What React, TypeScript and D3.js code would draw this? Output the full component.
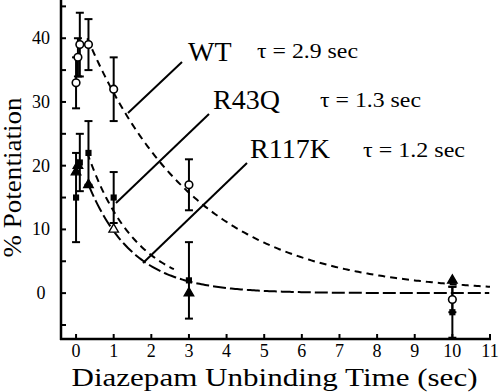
import React from "react";
import * as d3 from "d3";

// measured data (time in sec, % potentiation, +/- error)
const wtTime = [0, 0.05, 0.1, 0.33, 1, 3, 10];
const wtValue = [33, 37, 39, 39, 32, 17, -1];
const wtErr = [4, 3, 5, 4, 5, 4, 2];

const r43qTime = [0, 0.1, 0.33, 1, 3, 10];
const r43qValue = [15, 20.5, 22, 15, 2, -3];
const r43qErr = [7, 4.5, 5, 4, 6, 4];

const r117kTime = [0, 0.05, 0.33, 1, 3, 10];
const r117kValue = [19, 20, 17, 10, 0, 2];
const r117kFilled = [true, true, true, false, true, true];

// exponential fits: label, tau, peak amplitude, start, end
const fitNames = ["WT", "R43Q", "R117K"];
const fitTau = [2.9, 1.3, 1.2];
const fitAmp = [40, 22, 17];
const fitStart = [0.3, 0.3, 0.33];
const fitEnd = [11, 2.6, 11];

const xTicks = [0, 1, 2, 3, 4, 5, 6, 7, 8, 9, 10, 11];
const yMajor = [0, 10, 20, 30, 40];
const yMinor = [-5, 5, 15, 25, 35, 45];

const serif = { fontFamily: "Liberation Serif" };

export default function App() {
  const x = d3.scaleLinear().domain([-0.4, 11]).range([61, 490]);
  const y = d3.scaleLinear().domain([-7.2, 46]).range([339, 0]);

  const line = d3
    .line<[number, number]>()
    .x((d) => x(d[0]))
    .y((d) => y(d[1]));

  const fitPath = (i: number) => {
    const pts: [number, number][] = [];
    for (let t = fitStart[i]; t <= fitEnd[i] + 1e-9; t += 0.05) {
      pts.push([t, fitAmp[i] * Math.exp(-(t - fitStart[i]) / fitTau[i])]);
    }
    return line(pts) || "";
  };
  const dashes = ["7,5", "7,5", "13,4"];

  const errBar = (t: number, v: number, e: number, key: string) => {
    if (!e) return null;
    const cx = x(t);
    return (
      <g key={key} stroke="#000" strokeWidth={2}>
        <line x1={cx} x2={cx} y1={y(v + e)} y2={y(v - e)} />
        <line x1={cx - 4} x2={cx + 4} y1={y(v + e)} y2={y(v + e)} />
        <line x1={cx - 4} x2={cx + 4} y1={y(v - e)} y2={y(v - e)} />
      </g>
    );
  };

  const tri = d3.symbol(d3.symbolTriangle, 40)() || "";
  const sq = d3.symbol(d3.symbolSquare, 38)() || "";

  return (
    <svg
      width={500}
      height={392}
      style={{ position: "absolute", left: 0, top: 0, background: "#fff" }}
    >
      {/* fit curves */}
      {fitNames.map((n, i) => (
        <path
          key={n}
          d={fitPath(i)}
          fill="none"
          stroke="#000"
          strokeWidth={2}
          strokeDasharray={dashes[i]}
        />
      ))}

      {/* error bars */}
      {wtTime.map((t, i) => errBar(t, wtValue[i], wtErr[i], "we" + i))}
      {r43qTime.map((t, i) => errBar(t, r43qValue[i], r43qErr[i], "re" + i))}

      {/* markers */}
      {wtTime.map((t, i) => (
        <circle
          key={"wc" + i}
          cx={x(t)}
          cy={y(wtValue[i])}
          r={3.8}
          fill="#fff"
          stroke="#000"
          strokeWidth={1.6}
        />
      ))}
      {r43qTime.map((t, i) => (
        <path key={"rs" + i} d={sq} transform={`translate(${x(t)},${y(r43qValue[i])})`} fill="#000" />
      ))}
      {r117kTime.map((t, i) => (
        <path
          key={"kt" + i}
          d={tri}
          transform={`translate(${x(t)},${y(r117kValue[i])})`}
          fill={r117kFilled[i] ? "#000" : "#fff"}
          stroke="#000"
          strokeWidth={1.3}
        />
      ))}

      {/* axes */}
      <g stroke="#000" strokeWidth={2.5} fill="none">
        <line x1={61} x2={61} y1={0} y2={340} />
        <line x1={60} x2={491} y1={339} y2={339} />
      </g>
      <g stroke="#000" strokeWidth={2}>
        {xTicks.map((t) => (
          <line key={"xt" + t} x1={x(t)} x2={x(t)} y1={339} y2={334} />
        ))}
        {yMajor.concat(yMinor).map((v) => (
          <line key={"yt" + v} x1={61} x2={66} y1={y(v)} y2={y(v)} />
        ))}
      </g>
      {xTicks.map((t) => (
        <text key={"xl" + t} x={x(t)} y={357} fontSize={18} textAnchor="middle" style={serif}>
          {t}
        </text>
      ))}
      {yMajor.map((v) => (
        <text key={"yl" + v} x={41} y={y(v) + 6} fontSize={18} textAnchor="middle" style={serif}>
          {v}
        </text>
      ))}
      <text
        x={274.5}
        y={386}
        fontSize={25}
        textAnchor="middle"
        textLength={406}
        lengthAdjust="spacingAndGlyphs"
        style={serif}
      >
        Diazepam Unbinding Time (sec)
      </text>
      <text
        transform="translate(21,177.5) rotate(-90)"
        fontSize={25}
        textAnchor="middle"
        textLength={160}
        lengthAdjust="spacingAndGlyphs"
        style={serif}
      >
        % Potentiation
      </text>

      {/* annotations */}
      <g stroke="#000" strokeWidth={2}>
        <line x1={128} y1={113} x2={182} y2={62} />
        <line x1={116} y1={203} x2={209} y2={114} />
        <line x1={143} y1={263} x2={247} y2={163} />
      </g>
      <text x={188} y={60.5} fontSize={28} style={serif}>{fitNames[0]}</text>
      <text x={213} y={109} fontSize={28} style={serif}>{fitNames[1]}</text>
      <text x={250} y={158} fontSize={28} style={serif}>{fitNames[2]}</text>
      <text x={257} y={58} fontSize={21} textLength={101} lengthAdjust="spacingAndGlyphs" style={serif}>
        τ = {fitTau[0]} sec
      </text>
      <text x={320} y={107} fontSize={21} textLength={101} lengthAdjust="spacingAndGlyphs" style={serif}>
        τ = {fitTau[1]} sec
      </text>
      <text x={363} y={157} fontSize={21} textLength={102} lengthAdjust="spacingAndGlyphs" style={serif}>
        τ = {fitTau[2]} sec
      </text>
    </svg>
  );
}
